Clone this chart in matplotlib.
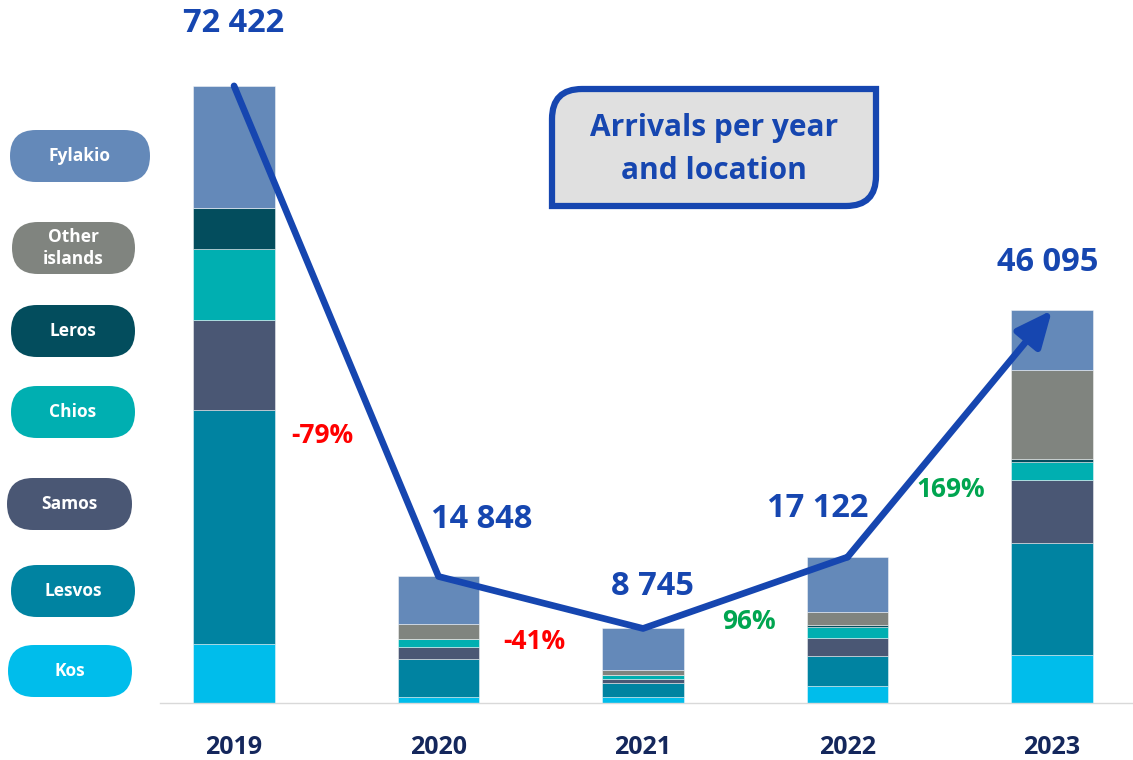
import matplotlib
matplotlib.use("Agg")
import matplotlib.pyplot as plt
from matplotlib.patches import FancyBboxPatch, PathPatch
from matplotlib.path import Path
import numpy as np

plt.rcParams['font.family'] = ['Open Sans', 'DejaVu Sans']

# Arrivals by year and location
years = ["2019", "2020", "2021", "2022", "2023"]
locations = ["Kos", "Lesvos", "Samos", "Chios", "Leros", "Other islands", "Fylakio"]
kos = [6911, 675, 750, 2047, 5690]
lesvos = [27446, 4539, 1580, 3466, 13040]
samos = [10596, 1304, 475, 2129, 7457]
chios = [8378, 984, 475, 1266, 2085]
leros = [4776, 0, 0, 201, 389]
other_islands = [0, 1813, 558, 1538, 10401]
fylakio = [14315, 5534, 4907, 6475, 7033]
totals = [72422, 14848, 8745, 17122, 46095]
total_labels = ["72 422", "14 848", "8 745", "17 122", "46 095"]
change_labels = ["-79%", "-41%", "96%", "169%"]

series = [kos, lesvos, samos, chios, leros, other_islands, fylakio]
colors = {
    "Kos": "#00BDEB",
    "Lesvos": "#0083A1",
    "Samos": "#4A5774",
    "Chios": "#00AFB1",
    "Leros": "#034D5D",
    "Other islands": "#80847F",
    "Fylakio": "#6489B9",
}
blue = "#1646B0"
navy = "#14275C"

W, H = 1133, 760
fig = plt.figure(figsize=(W / 100, H / 100), dpi=100)
fig.patch.set_facecolor("white")

# Main chart area in pixel terms: x 160..1133, baseline at y=703
ax = fig.add_axes([160 / W, 57 / H, 973 / W, 703 / H])
ax.set_facecolor("none")
x = np.arange(len(years))
ax.set_xlim(-0.362, 4.396)
ax.set_ylim(0, 82500)

bottom = np.zeros(len(years))
for name, vals in zip(locations, series):
    vals = np.array(vals, dtype=float)
    ax.bar(x, vals, width=0.40, bottom=bottom, color=colors[name],
           edgecolor=(1, 1, 1, 0.45), linewidth=0.7, zorder=2)
    bottom += vals

# Trend line through the yearly totals, ending in an arrow
ax.plot(x[:-1], totals[:-1], color=blue, lw=4.8, solid_capstyle="round",
        solid_joinstyle="round", zorder=3)
ax.annotate("", xy=(x[-1], totals[-1]), xytext=(x[-2], totals[-2]),
            arrowprops=dict(arrowstyle="-|>,head_length=1.0,head_width=0.45",
                            color=blue, lw=4.8, shrinkA=0, shrinkB=0,
                            mutation_scale=22, capstyle="round"),
            zorder=3)

# Total labels
offsets = [(0, 62), (43, 57), (9, 42), (-30, 49), (-4, 48)]
for xi, tot, lab, (dx, dy) in zip(x, totals, total_labels, offsets):
    ax.annotate(lab, xy=(xi, tot), xytext=(dx, dy), textcoords="offset pixels",
                ha="center", va="center", fontsize=23.5, fontweight="bold",
                color=blue, zorder=4)

# Year-over-year change labels
change_pos = [(0.43, 31340), (1.467, 7160), (2.518, 9508), (3.506, 25000)]
for lab, (cx, cy) in zip(change_labels, change_pos):
    col = "#FF0000" if lab.startswith("-") else "#00A550"
    ax.text(cx, cy, lab, ha="center", va="center", fontsize=19,
            fontweight="bold", color=col, zorder=4)

ax.set_xticks(x)
ax.set_xticklabels(years, fontsize=18, fontweight="bold", color=navy)
ax.tick_params(axis="x", length=0, pad=23)
ax.set_yticks([])
for s in ["top", "left", "right"]:
    ax.spines[s].set_visible(False)
ax.spines["bottom"].set_color("#D9D9D9")
ax.spines["bottom"].set_linewidth(1.0)

# Overlay in pixel coordinates for the legend pills and the title box
ov = fig.add_axes([0, 0, 1, 1], zorder=5)
ov.set_xlim(0, W)
ov.set_ylim(H, 0)
ov.axis("off")
ov.patch.set_alpha(0)

pills = [
    ("Fylakio", "Fylakio", 10, 150, 156),
    ("Other islands", "Other\nislands", 12, 135, 248),
    ("Leros", "Leros", 11, 135, 331),
    ("Chios", "Chios", 11, 135, 412),
    ("Samos", "Samos", 7, 132, 504),
    ("Lesvos", "Lesvos", 11, 135, 591),
    ("Kos", "Kos", 8, 132, 671),
]
ph = 52
for key, text, x0, x1, yc in pills:
    box = FancyBboxPatch((x0, yc - ph / 2), x1 - x0, ph,
                         boxstyle=f"round,pad=0,rounding_size={ph / 2}",
                         facecolor=colors[key], edgecolor="none")
    ov.add_patch(box)
    ov.text((x0 + x1) / 2, yc, text, ha="center", va="center", color="white",
            fontsize=12.5, fontweight="bold", linespacing=1.3)

# Title box with rounded top-left and bottom-right corners
bx0, bx1, by0, by1, r = 552, 876, 89, 206, 30
verts = [
    (bx0 + r, by0), (bx1, by0), (bx1, by1 - r),
    (bx1, by1), (bx1 - r, by1),
    (bx0, by1), (bx0, by0 + r),
    (bx0, by0), (bx0 + r, by0),
    (bx0 + r, by0),
]
codes = [Path.MOVETO, Path.LINETO, Path.LINETO,
         Path.CURVE3, Path.CURVE3,
         Path.LINETO, Path.LINETO,
         Path.CURVE3, Path.CURVE3,
         Path.CLOSEPOLY]
ov.add_patch(PathPatch(Path(verts, codes), facecolor="#E0E0E0",
                       edgecolor=blue, linewidth=4.5, joinstyle="miter"))
ov.text((bx0 + bx1) / 2, 149.5, "Arrivals per year\nand location", ha="center",
        va="center", fontsize=21.5, fontweight="bold", color=blue,
        linespacing=1.55)

fig.savefig("out.png", dpi=100, facecolor="white")
